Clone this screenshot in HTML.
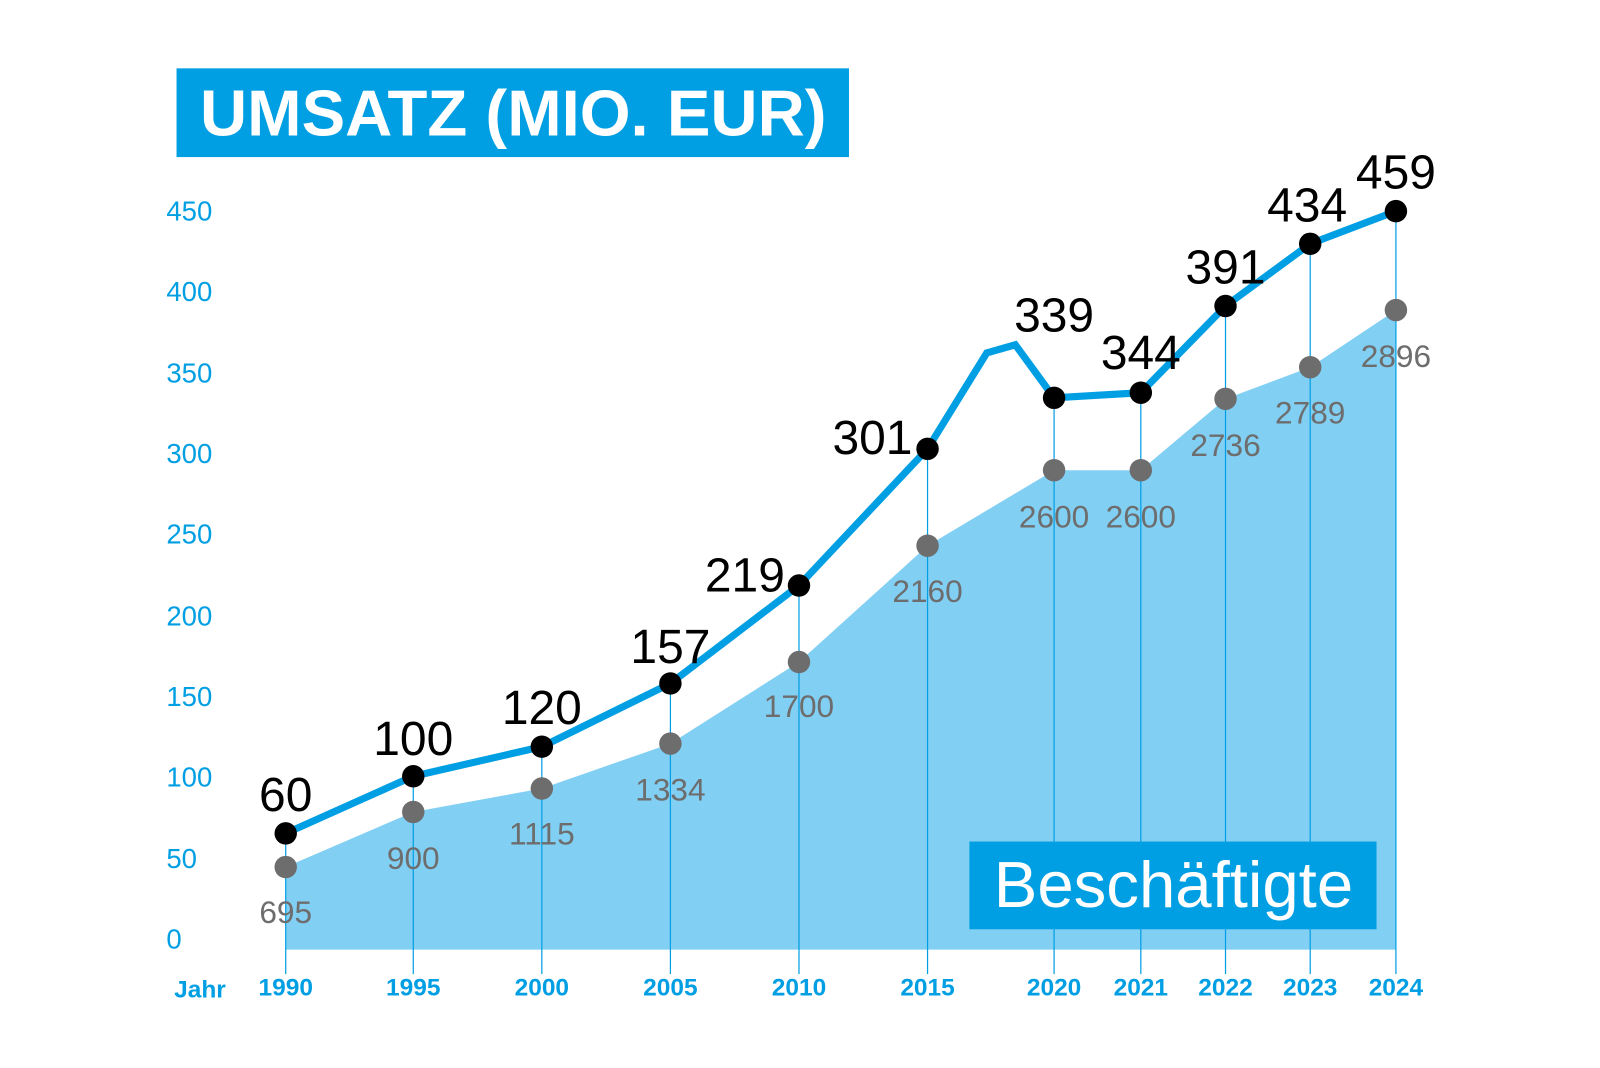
<!DOCTYPE html>
<html><head><meta charset="utf-8"><style>
html,body{margin:0;padding:0;background:#fff;}
svg{display:block;font-family:"Liberation Sans",sans-serif;}
</style></head><body>
<svg width="1600" height="1068" viewBox="0 0 1568 1047" preserveAspectRatio="none" xmlns="http://www.w3.org/2000/svg">
<rect x="173" y="67" width="659" height="87" fill="#009fe3"/>
<text x="196" y="133" font-size="64" font-weight="bold" fill="#fff" textLength="614">UMSATZ (MIO. EUR)</text>
<g fill="#009fe3" font-size="27" text-anchor="start">
<text x="163" y="216">450</text><text x="163" y="295">400</text><text x="163" y="375">350</text>
<text x="163" y="454">300</text><text x="163" y="533">250</text><text x="163" y="613">200</text>
<text x="163" y="692">150</text><text x="163" y="771">100</text><text x="163" y="851">50</text>
<text x="163" y="930">0</text>
</g>
<polygon fill="#82cff4" points="280,850 405,796 531,773 657,729 783,649 909,535 1033,461 1118,461 1201,391 1284,360 1368,304 1368,931 280,931"/>
<g stroke="#009fe3" stroke-width="1.2">
<line x1="280" y1="817" x2="280" y2="955"/><line x1="405" y1="761" x2="405" y2="955"/>
<line x1="531" y1="732" x2="531" y2="955"/><line x1="657" y1="670" x2="657" y2="955"/>
<line x1="783" y1="574" x2="783" y2="955"/><line x1="909" y1="440" x2="909" y2="955"/>
<line x1="1033" y1="390" x2="1033" y2="955"/><line x1="1118" y1="385" x2="1118" y2="955"/>
<line x1="1201" y1="300" x2="1201" y2="955"/><line x1="1284" y1="239" x2="1284" y2="955"/>
<line x1="1368" y1="207" x2="1368" y2="955"/>
</g>
<polyline fill="none" stroke="#009fe3" stroke-width="7" points="280,817 405,761 531,732 657,670 783,574 909,440 967,346 995,338 1033,390 1118,385 1201,300 1284,239 1368,207"/>
<g fill="#000">
<circle cx="280" cy="817" r="11"/><circle cx="405" cy="761" r="11"/><circle cx="531" cy="732" r="11"/>
<circle cx="657" cy="670" r="11"/><circle cx="783" cy="574" r="11"/><circle cx="909" cy="440" r="11"/>
<circle cx="1033" cy="390" r="11"/><circle cx="1118" cy="385" r="11"/><circle cx="1201" cy="300" r="11"/>
<circle cx="1284" cy="239" r="11"/><circle cx="1368" cy="207" r="11"/>
</g>
<g fill="#6d6d6d">
<circle cx="280" cy="850" r="11"/><circle cx="405" cy="796" r="11"/><circle cx="531" cy="773" r="11"/>
<circle cx="657" cy="729" r="11"/><circle cx="783" cy="649" r="11"/><circle cx="909" cy="535" r="11"/>
<circle cx="1033" cy="461" r="11"/><circle cx="1118" cy="461" r="11"/><circle cx="1201" cy="391" r="11"/>
<circle cx="1284" cy="360" r="11"/><circle cx="1368" cy="304" r="11"/>
</g>
<g fill="#000" font-size="47" text-anchor="middle">
<text x="280" y="795">60</text><text x="405" y="740">100</text><text x="531" y="710">120</text>
<text x="657" y="650">157</text><text x="730" y="580">219</text><text x="855" y="445">301</text>
<text x="1033" y="325">339</text><text x="1118" y="362">344</text><text x="1201" y="278">391</text>
<text x="1281" y="217">434</text><text x="1368" y="185">459</text>
</g>
<g fill="#6d6d6d" font-size="31" text-anchor="middle">
<text x="280" y="905">695</text><text x="405" y="852">900</text><text x="531" y="828">1115</text>
<text x="657" y="785">1334</text><text x="783" y="703">1700</text><text x="909" y="590">2160</text>
<text x="1033" y="517">2600</text><text x="1118" y="517">2600</text><text x="1201" y="447">2736</text>
<text x="1284" y="415">2789</text><text x="1368" y="360">2896</text>
</g>
<g fill="#009fe3" font-size="24" font-weight="bold" text-anchor="middle">
<text x="196" y="978">Jahr</text>
<text x="280" y="976">1990</text><text x="405" y="976">1995</text><text x="531" y="976">2000</text>
<text x="657" y="976">2005</text><text x="783" y="976">2010</text><text x="909" y="976">2015</text>
<text x="1033" y="976">2020</text><text x="1118" y="976">2021</text><text x="1201" y="976">2022</text>
<text x="1284" y="976">2023</text><text x="1368" y="976">2024</text>
</g>
<rect x="950" y="825" width="399" height="86" fill="#009fe3"/>
<text x="1150" y="889" font-size="64" fill="#fff" text-anchor="middle">Beschäftigte</text>
</svg>
</body></html>
